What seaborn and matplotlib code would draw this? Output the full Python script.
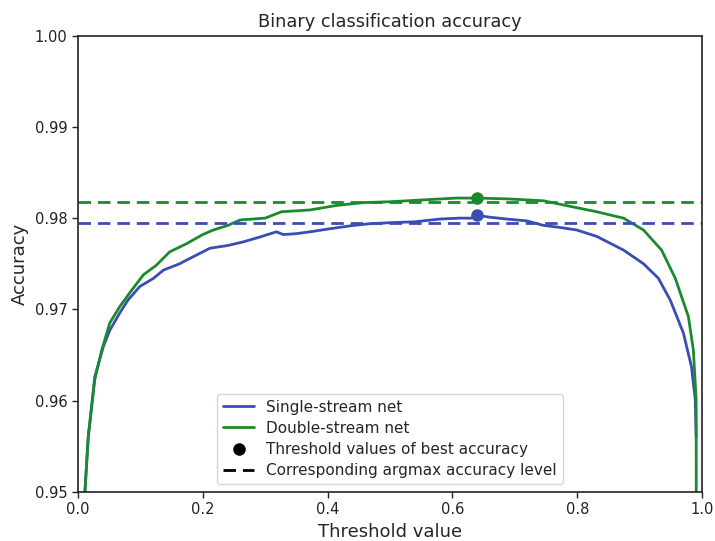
import numpy as np
import pandas as pd
import matplotlib
matplotlib.use("Agg")
import matplotlib.pyplot as plt
import seaborn as sns
from matplotlib.lines import Line2D

# ---- data ----
single_x = [0.0112, 0.0165, 0.027, 0.0406, 0.051, 0.067, 0.080, 0.099, 0.121, 0.137, 0.163, 0.174,
            0.2115, 0.240, 0.265, 0.290, 0.318, 0.329, 0.350, 0.372, 0.400, 0.441, 0.470, 0.500,
            0.540, 0.580, 0.612, 0.630, 0.640, 0.660, 0.687, 0.719, 0.746, 0.770, 0.799, 0.831,
            0.874, 0.906, 0.930, 0.949, 0.970, 0.983, 0.989, 0.9904]
single_y = [0.9500, 0.9560, 0.9626, 0.9659, 0.9677, 0.9696, 0.9710, 0.9725, 0.9734, 0.9743, 0.9750, 0.9754,
            0.9767, 0.9770, 0.9774, 0.9779, 0.9785, 0.9782, 0.9783, 0.9785, 0.9788, 0.9792, 0.9794, 0.9795,
            0.9796, 0.9799, 0.9800, 0.9800, 0.9803, 0.9801, 0.9799, 0.9797, 0.9792, 0.9790, 0.9787, 0.9780,
            0.9765, 0.9750, 0.9734, 0.9710, 0.9674, 0.9637, 0.9601, 0.9560]

double_x = [0.0112, 0.0165, 0.027, 0.038, 0.051, 0.067, 0.085, 0.105, 0.125, 0.147, 0.174, 0.200,
            0.217, 0.240, 0.260, 0.300, 0.326, 0.350, 0.372, 0.415, 0.457, 0.500, 0.553, 0.607,
            0.640, 0.692, 0.746, 0.788, 0.831, 0.874, 0.906, 0.935, 0.957, 0.978, 0.986, 0.9904, 0.9906]
double_y = [0.9500, 0.9560, 0.9623, 0.9655, 0.9685, 0.9703, 0.9720, 0.9738, 0.9748, 0.9763, 0.9772, 0.9782,
            0.9787, 0.9792, 0.9798, 0.9800, 0.9807, 0.9808, 0.9809, 0.9814, 0.9817, 0.9818, 0.9820, 0.9822,
            0.9822, 0.9821, 0.9819, 0.9813, 0.9807, 0.9800, 0.9787, 0.9765, 0.9734, 0.9692, 0.9655, 0.9601, 0.9500]

series_names = ["Single-stream net", "Double-stream net"]
best_thresholds = [0.640, 0.640]
best_accuracy = [0.9803, 0.98222]
argmax_levels = [0.9795, 0.9818]

colors = ["#3a4db5", "#1b8a2e"]

df = pd.concat([
    pd.DataFrame({"Threshold": single_x, "Accuracy": single_y, "Model": series_names[0]}),
    pd.DataFrame({"Threshold": double_x, "Accuracy": double_y, "Model": series_names[1]}),
], ignore_index=True)

sns.set_style("ticks")
plt.rcParams["font.family"] = ["DejaVu Sans"]

fig = plt.figure(figsize=(7.15, 5.41), dpi=100)
ax = fig.add_axes([0.109, 0.091, 0.873, 0.843])

sns.lineplot(data=df, x="Threshold", y="Accuracy", hue="Model", palette=colors,
             linewidth=2, ax=ax, legend=False, sort=False, estimator=None)

for c, tx, ty, lvl in zip(colors, best_thresholds, best_accuracy, argmax_levels):
    ax.axhline(lvl, color=c, linestyle="--", linewidth=2, dashes=(4.5, 2.5))
    ax.plot([tx], [ty], "o", color=c, markersize=8)

ax.set_xlim(0, 1)
ax.set_ylim(0.95, 1.0)
ax.set_xticks([0.0, 0.2, 0.4, 0.6, 0.8, 1.0])
ax.set_yticks([0.95, 0.96, 0.97, 0.98, 0.99, 1.00])
ax.set_xticklabels(["0.0", "0.2", "0.4", "0.6", "0.8", "1.0"])
ax.set_yticklabels(["0.95", "0.96", "0.97", "0.98", "0.99", "1.00"])
ax.tick_params(labelsize=10.5, length=4, width=1, colors="#222222")
ax.set_xlabel("Threshold value", fontsize=13)
ax.set_ylabel("Accuracy", fontsize=13)
ax.set_title("Binary classification accuracy", fontsize=12.8)
for s in ax.spines.values():
    s.set_color("#222222")
    s.set_linewidth(1.2)

handles = [
    Line2D([], [], color=colors[0], linewidth=2),
    Line2D([], [], color=colors[1], linewidth=2),
    Line2D([], [], color="black", marker="o", linestyle="none", markersize=8),
    Line2D([], [], color="black", linestyle="--", linewidth=2, dashes=(4.5, 2.5)),
]
labels = series_names + ["Threshold values of best accuracy", "Corresponding argmax accuracy level"]
ax.legend(handles, labels, loc="lower center", fontsize=11, frameon=True,
          bbox_to_anchor=(0.5, 0.0), borderaxespad=0.5, labelspacing=0.4)

fig.savefig("out.png", dpi=100)
